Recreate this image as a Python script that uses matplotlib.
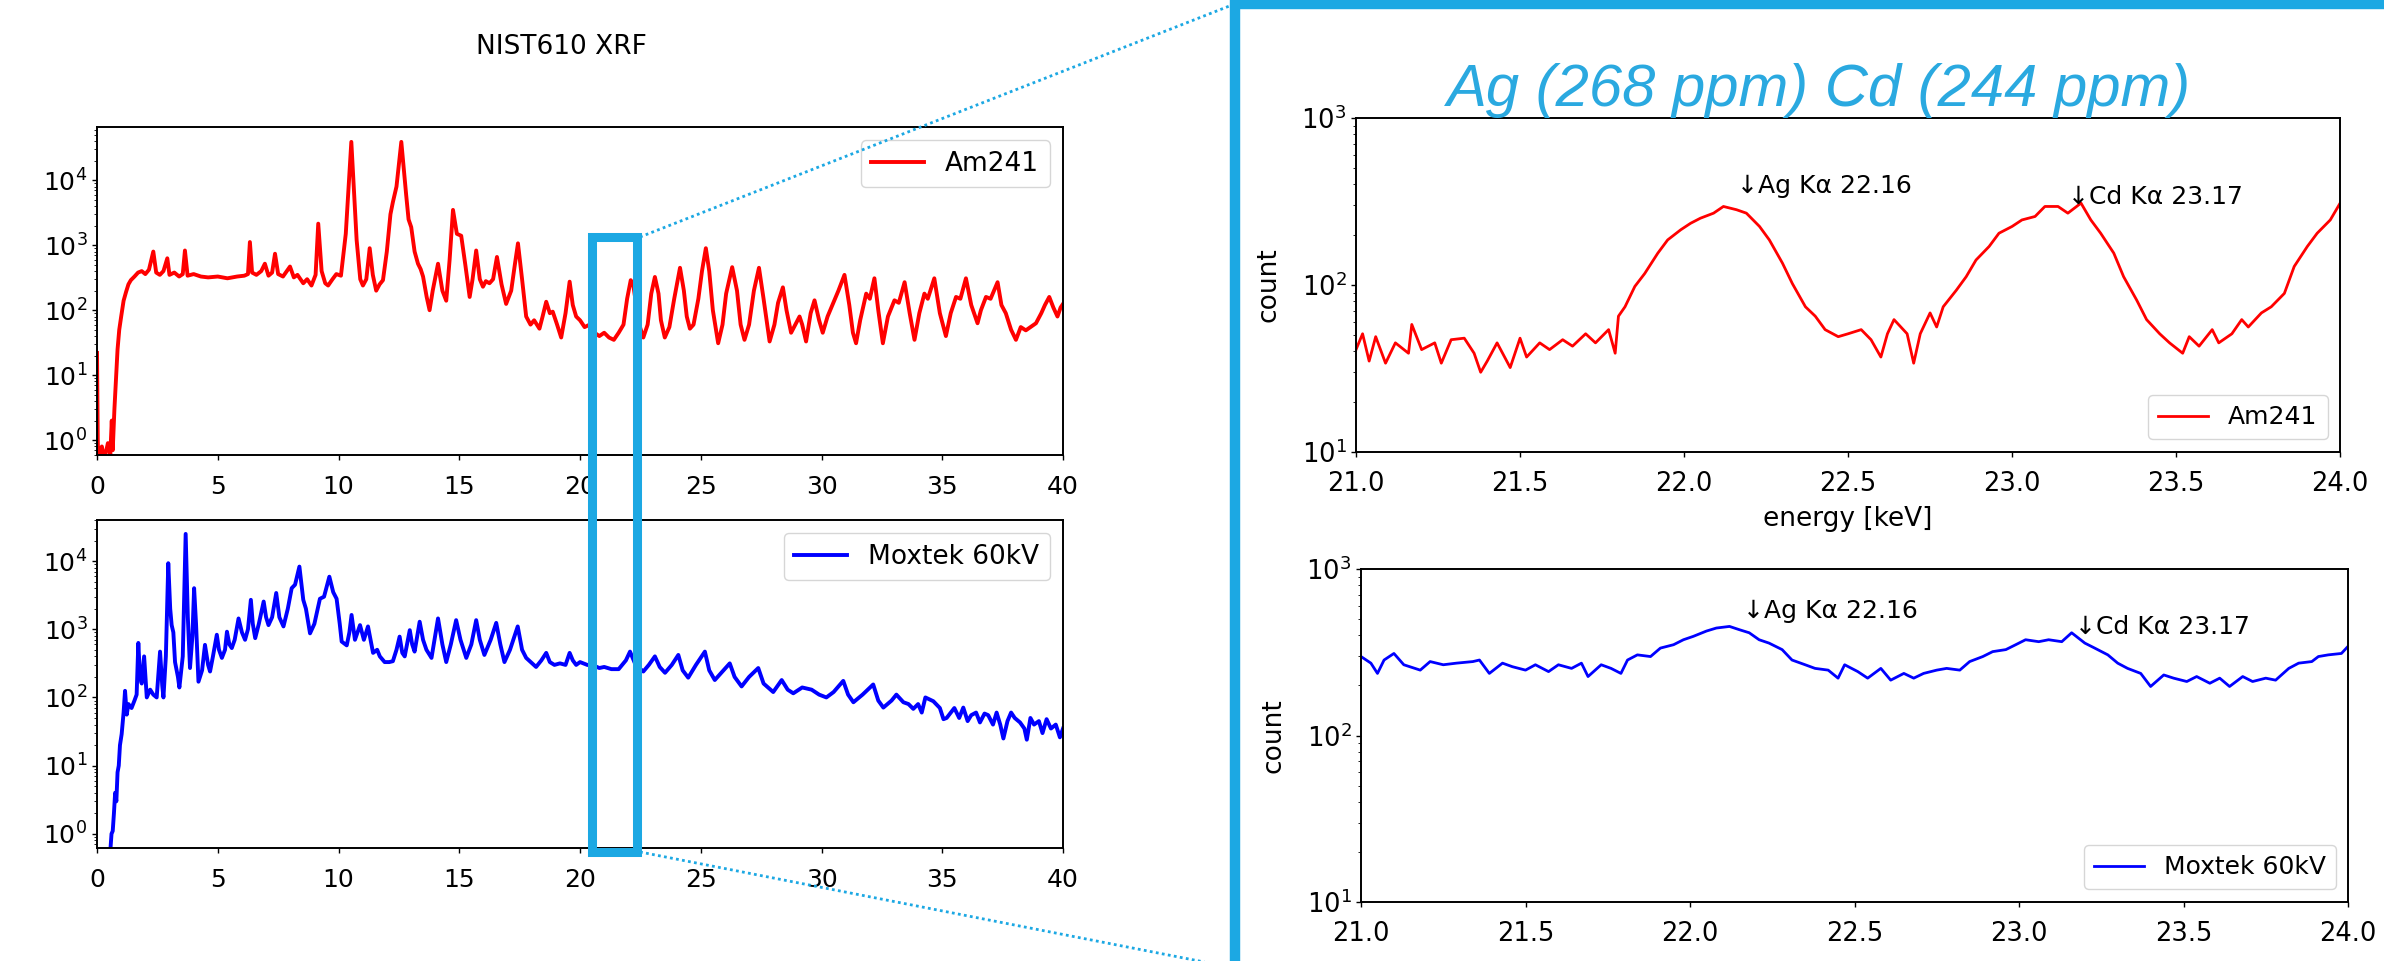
"""NIST610 XRF spectra: full range (left) and Ag/Cd zoom (right)."""
import numpy as np
import matplotlib
matplotlib.use("Agg")
import matplotlib.pyplot as plt
from matplotlib.patches import Rectangle
from matplotlib.lines import Line2D

W, H = 2384, 961
CYAN = "#1CA8E3"

# ---- full range spectra (energy keV, counts) ----
am_energy = [
    0.00, 0.03, 0.05, 0.20, 0.30, 0.45, 0.55, 0.61, 0.65, 0.72, 0.78, 0.85, 0.92, 1.00,
    1.10, 1.20, 1.30, 1.40, 1.55, 1.70, 1.85, 2.00, 2.15, 2.33, 2.45, 2.60, 2.75, 2.91,
    3.00, 3.20, 3.40, 3.55, 3.64, 3.75, 4.00, 4.30, 4.60, 5.00, 5.40, 5.80, 6.10, 6.25,
    6.33, 6.42, 6.60, 6.80, 6.95, 7.10, 7.25, 7.37, 7.50, 7.70, 7.99, 8.15, 8.30, 8.54,
    8.70, 8.88, 9.05, 9.16, 9.30, 9.45, 9.57, 9.75, 9.91, 10.10, 10.30, 10.53, 10.75,
    10.90, 11.01, 11.15, 11.29, 11.42, 11.56, 11.70, 11.84, 12.00, 12.15, 12.25, 12.40,
    12.60, 12.80, 12.90, 13.01, 13.15, 13.29, 13.40, 13.50, 13.65, 13.77, 13.90, 14.12,
    14.30, 14.46, 14.60, 14.74, 14.90, 15.08, 15.25, 15.43, 15.55, 15.70, 15.85, 15.98,
    16.10, 16.25, 16.40, 16.56, 16.75, 16.94, 17.15, 17.30, 17.43, 17.60, 17.77, 17.95,
    18.10, 18.32, 18.45, 18.60, 18.75, 18.87, 19.05, 19.22, 19.40, 19.57, 19.70, 19.84,
    20.00, 20.19, 20.40, 20.60, 20.80, 21.00, 21.20, 21.40, 21.60, 21.80, 21.95, 22.10,
    22.20, 22.30, 22.45, 22.62, 22.80, 22.95, 23.10, 23.25, 23.35, 23.51, 23.70, 23.90,
    24.14, 24.30, 24.42, 24.55, 24.70, 24.90, 25.05, 25.21, 25.35, 25.50, 25.72, 25.90,
    26.05, 26.30, 26.50, 26.65, 26.81, 27.00, 27.20, 27.41, 27.60, 27.85, 28.05, 28.20,
    28.40, 28.55, 28.74, 29.09, 29.20, 29.36, 29.55, 29.71, 29.90, 30.05, 30.25, 30.47,
    30.70, 30.95, 31.15, 31.30, 31.43, 31.60, 31.85, 32.00, 32.19, 32.35, 32.54, 32.75,
    33.02, 33.20, 33.44, 33.65, 33.85, 34.05, 34.26, 34.40, 34.67, 34.90, 35.15, 35.35,
    35.57, 35.75, 35.98, 36.20, 36.46, 36.60, 36.81, 37.00, 37.29, 37.45, 37.63, 37.85,
    38.05, 38.25, 38.46, 38.65, 38.88, 39.10, 39.25, 39.43, 39.60, 39.77, 39.90, 40.00,
]
am_counts = [
    22, 1.0, 0.5, 0.8, 0.5, 0.9, 0.6, 2.0, 0.7, 3, 8, 25, 50, 80,
    140, 190, 250, 290, 330, 380, 400, 360, 420, 800, 380, 350, 400, 630,
    350, 380, 330, 360, 830, 340, 360, 330, 320, 330, 310, 330, 340, 360,
    1120, 380, 350, 400, 520, 340, 380, 740, 360, 330, 470, 320, 350, 260,
    300, 240, 350, 2150, 400, 260, 240, 300, 360, 340, 1500, 39000, 1200,
    300, 240, 300, 900, 350, 200, 250, 290, 800, 3000, 4600, 8000,
    39000, 6000, 2500, 1900, 800, 520, 430, 330, 160, 100, 200, 520,
    200, 140, 600, 3500, 1500, 1400, 500, 160, 300, 830, 300, 230,
    280, 260, 300, 660, 250, 125, 200, 500, 1070, 300, 80, 60,
    70, 52, 80, 135, 90, 95, 60, 38, 90, 275, 120, 80,
    70, 55, 60, 45, 40, 45, 38, 35, 45, 60, 150, 290,
    250, 140, 60, 38, 60, 180, 325, 180, 70, 38, 55, 150,
    450, 200, 80, 52, 60, 150, 400, 900, 400, 100, 31, 60,
    180, 460, 200, 60, 35, 60, 200, 450, 150, 33, 60, 130,
    225, 100, 45, 80, 60, 33, 90, 142, 70, 45, 80, 125,
    200, 350, 120, 45, 31, 70, 180, 150, 310, 100, 31, 80,
    142, 130, 270, 90, 35, 90, 180, 150, 310, 90, 40, 90,
    160, 150, 310, 120, 63, 100, 160, 150, 270, 120, 90, 50,
    35, 55, 49, 55, 63, 90, 120, 160, 110, 80, 110, 125,
]

mox_energy = [
    0.54, 0.60, 0.65, 0.70, 0.75, 0.80, 0.85, 0.90, 0.95, 1.02, 1.10, 1.16, 1.23, 1.30,
    1.43, 1.55, 1.64, 1.71, 1.78, 1.85, 1.95, 2.06, 2.20, 2.33, 2.47, 2.61, 2.70, 2.75,
    2.85, 2.95, 3.03, 3.09, 3.16, 3.23, 3.35, 3.41, 3.55, 3.67, 3.76, 3.85, 3.95, 4.02,
    4.10, 4.20, 4.35, 4.47, 4.60, 4.68, 4.80, 4.96, 5.05, 5.17, 5.30, 5.38, 5.48, 5.58,
    5.70, 5.86, 6.00, 6.13, 6.25, 6.37, 6.45, 6.55, 6.70, 6.90, 7.00, 7.10, 7.25, 7.42,
    7.55, 7.72, 7.90, 8.06, 8.20, 8.38, 8.54, 8.65, 8.82, 9.00, 9.23, 9.40, 9.62, 9.78,
    9.92, 10.05, 10.13, 10.34, 10.45, 10.54, 10.68, 10.89, 11.05, 11.22, 11.43, 11.60,
    11.71, 11.91, 12.10, 12.25, 12.40, 12.53, 12.64, 12.74, 12.95, 13.05, 13.15, 13.36,
    13.50, 13.64, 13.85, 14.12, 14.30, 14.46, 14.65, 14.87, 15.05, 15.29, 15.50, 15.70,
    15.85, 16.04, 16.30, 16.53, 16.70, 16.87, 17.10, 17.42, 17.60, 17.77, 18.00, 18.18,
    18.40, 18.60, 18.75, 18.94, 19.17, 19.40, 19.57, 19.70, 19.84, 20.00, 20.30, 20.60,
    20.80, 21.00, 21.30, 21.60, 21.90, 22.07, 22.30, 22.62, 22.85, 23.10, 23.30, 23.52,
    23.80, 24.07, 24.25, 24.48, 24.80, 25.17, 25.35, 25.58, 25.90, 26.20, 26.40, 26.69,
    27.00, 27.38, 27.60, 28.00, 28.35, 28.60, 28.83, 29.20, 29.59, 29.90, 30.20, 30.50,
    30.90, 31.10, 31.32, 31.70, 32.14, 32.35, 32.56, 32.90, 33.10, 33.39, 33.60, 33.80,
    34.00, 34.15, 34.30, 34.63, 34.90, 35.05, 35.18, 35.50, 35.70, 35.87, 36.05, 36.20,
    36.40, 36.56, 36.75, 36.90, 37.10, 37.25, 37.40, 37.53, 37.70, 37.85, 38.00, 38.22,
    38.40, 38.50, 38.65, 38.80, 39.00, 39.15, 39.32, 39.50, 39.70, 39.87, 40.00,
]
mox_counts = [
    0.5, 1.0, 1.1, 2, 4, 3, 8, 10, 20, 29, 60, 125, 56, 80,
    70, 90, 110, 630, 200, 160, 400, 100, 130, 110, 100, 470, 150, 100,
    400, 9300, 2000, 1150, 900, 330, 200, 140, 400, 25000, 1500, 270, 800, 4000,
    1200, 170, 250, 590, 300, 240, 400, 830, 500, 380, 500, 920, 600, 530,
    700, 1440, 900, 700, 1000, 2700, 1200, 740, 1200, 2550, 1500, 1150, 1500, 3400,
    1500, 1100, 2000, 4000, 4500, 8300, 2700, 2000, 870, 1200, 2800, 3000, 5900, 3500,
    2800, 1200, 660, 580, 900, 1620, 700, 1150, 700, 1100, 450, 500,
    400, 330, 330, 340, 500, 780, 450, 400, 970, 600, 470, 1290,
    700, 500, 380, 1440, 600, 330, 600, 1360, 700, 380, 600, 1360,
    700, 420, 700, 1240, 600, 330, 500, 1100, 500, 380, 320, 280,
    350, 450, 330, 300, 316, 300, 450, 350, 300, 330, 300, 290,
    270, 280, 260, 260, 350, 470, 300, 240, 300, 400, 280, 230,
    300, 420, 250, 195, 300, 470, 250, 180, 240, 316, 200, 145,
    200, 270, 160, 120, 180, 130, 115, 140, 130, 110, 100, 120,
    175, 110, 85, 110, 155, 90, 71, 90, 110, 85, 80, 68,
    80, 60, 100, 88, 70, 48, 50, 70, 50, 71, 45, 55,
    60, 43, 58, 55, 40, 60, 40, 25, 45, 60, 50, 43,
    35, 24, 50, 40, 45, 30, 48, 35, 40, 26, 35,
]

# ---- Ag / Cd window 21-24 keV ----
am_zoom_energy = [
    21.00, 21.02, 21.04, 21.06, 21.09, 21.12, 21.16, 21.17, 21.20, 21.24, 21.26, 21.29,
    21.33, 21.36, 21.38, 21.40, 21.43, 21.47, 21.50, 21.52, 21.56, 21.59, 21.63, 21.66,
    21.70, 21.73, 21.77, 21.79, 21.80, 21.82, 21.85, 21.88, 21.92, 21.95, 21.99, 22.02,
    22.05, 22.09, 22.12, 22.16, 22.19, 22.23, 22.26, 22.30, 22.33, 22.37, 22.40, 22.43,
    22.47, 22.50, 22.54, 22.57, 22.60, 22.62, 22.64, 22.68, 22.70, 22.72, 22.75, 22.77,
    22.79, 22.83, 22.86, 22.89, 22.93, 22.96, 23.00, 23.03, 23.07, 23.10, 23.14, 23.17,
    23.21, 23.24, 23.27, 23.31, 23.34, 23.38, 23.41, 23.45, 23.48, 23.52, 23.54, 23.57,
    23.61, 23.63, 23.67, 23.70, 23.72, 23.76, 23.79, 23.83, 23.86, 23.90, 23.93, 23.97,
    24.00,
]
am_zoom_counts = [
    41, 51, 35, 49, 34, 45, 39, 58, 41, 45, 34, 47,
    48, 39, 30, 35, 45, 32, 48, 37, 45, 41, 47, 43,
    51, 45, 54, 39, 65, 74, 98, 117, 155, 186, 214, 234,
    251, 269, 295, 282, 269, 224, 186, 135, 102, 74, 65, 54,
    49, 51, 54, 47, 37, 51, 62, 51, 34, 51, 68, 56,
    74, 93, 112, 141, 170, 204, 224, 245, 257, 295, 295, 269,
    309, 245, 204, 155, 112, 81, 62, 51, 45, 39, 49, 43,
    54, 45, 51, 62, 56, 68, 74, 89, 129, 170, 204, 245,
    309,
]

mox_zoom_energy = [
    21.00, 21.03, 21.05, 21.07, 21.10, 21.13, 21.18, 21.21, 21.25, 21.29, 21.34, 21.36,
    21.39, 21.43, 21.46, 21.50, 21.53, 21.57, 21.60, 21.64, 21.67, 21.69, 21.73, 21.76,
    21.79, 21.81, 21.84, 21.88, 21.91, 21.95, 21.98, 22.01, 22.05, 22.08, 22.12, 22.15,
    22.18, 22.21, 22.24, 22.28, 22.31, 22.35, 22.38, 22.42, 22.45, 22.47, 22.51, 22.54,
    22.58, 22.61, 22.65, 22.68, 22.71, 22.75, 22.78, 22.82, 22.85, 22.89, 22.92, 22.96,
    22.99, 23.02, 23.06, 23.09, 23.13, 23.16, 23.20, 23.23, 23.27, 23.30, 23.33, 23.37,
    23.40, 23.44, 23.47, 23.51, 23.54, 23.58, 23.61, 23.64, 23.68, 23.71, 23.75, 23.78,
    23.82, 23.85, 23.89, 23.91, 23.94, 23.98, 24.00,
]
mox_zoom_counts = [
    298, 272, 236, 284, 311, 266, 247, 278, 266, 272, 278, 284,
    236, 272, 259, 247, 266, 242, 266, 253, 272, 226, 266, 253,
    236, 284, 305, 298, 335, 351, 376, 394, 424, 442, 452, 432,
    414, 376, 359, 328, 284, 266, 253, 247, 221, 266, 242, 221,
    253, 215, 236, 221, 236, 247, 253, 247, 278, 298, 319, 328,
    351, 376, 366, 376, 366, 414, 359, 335, 305, 272, 253, 236,
    197, 231, 221, 211, 226, 206, 221, 197, 226, 211, 221, 215,
    253, 272, 278, 298, 305, 311, 343,
]

line_labels = ["Ag Kα 22.16", "Cd Kα 23.17"]
line_energy = [22.16, 23.17]
am_label_y = [355, 305]
mox_label_y = [505, 410]


def fig_xy(px, py):
    """pixel position in the slide -> figure fraction"""
    return px / W, 1 - py / H


def style_axis(ax, size, xpad):
    ax.tick_params(labelsize=size, width=1.0)
    ax.tick_params(axis="x", pad=xpad)
    for sp in ax.spines.values():
        sp.set_linewidth(1.4)


fig = plt.figure(figsize=(W / 100, H / 100), dpi=100)

# left: full range
ax_am = fig.add_axes([0.0407, 0.5265, 0.4052, 0.3413])
ax_mox = fig.add_axes([0.0407, 0.1176, 0.4052, 0.3413])
ax_am.plot(am_energy, am_counts, color="red", lw=2.8, label="Am241")
ax_mox.plot(mox_energy, mox_counts, color="blue", lw=2.8, label="Moxtek 60kV")
ax_am.set_ylim(0.59, 66000)
ax_mox.set_ylim(0.62, 40000)
for ax in (ax_am, ax_mox):
    ax.set_yscale("log")
    ax.set_xlim(0, 40)
    ax.set_xticks(range(0, 41, 5))
    style_axis(ax, 18, 11)
    ax.legend(loc="upper right", fontsize=19)
fig.text(0.2357, 0.951, "NIST610 XRF", ha="center", va="center", fontsize=19)

# right: Ag / Cd window
ax_az = fig.add_axes([0.5688, 0.5297, 0.4128, 0.3476])
ax_mz = fig.add_axes([0.5709, 0.0614, 0.4140, 0.3465])
ax_az.plot(am_zoom_energy, am_zoom_counts, color="red", lw=2.0, label="Am241")
ax_mz.plot(mox_zoom_energy, mox_zoom_counts, color="blue", lw=2.0, label="Moxtek 60kV")
for ax, ys in ((ax_az, am_label_y), (ax_mz, mox_label_y)):
    ax.set_yscale("log")
    ax.set_xlim(21, 24)
    ax.set_ylim(10, 1000)
    ax.set_ylabel("count", fontsize=19, labelpad=14)
    style_axis(ax, 18.5, 10)
    ax.legend(loc="lower right", fontsize=18)
    for e, txt, y in zip(line_energy, line_labels, ys):
        ax.text(e, y, "↓" + txt, fontsize=18, ha="left", va="baseline")
ax_az.set_xlabel("energy [keV]", fontsize=19, labelpad=7)

fig.text(0.763, 1 - 90 / H, "Ag (268 ppm) Cd (244 ppm)", ha="center", va="center",
         fontsize=43, style="italic", family="Liberation Sans", color="#2AA9E0")

# zoom frame, marker box and connectors
x0, y0 = fig_xy(1235, 966)
x1, y1 = fig_xy(2400, 4)
fig.patches.append(Rectangle((x0, y0), x1 - x0, y1 - y0, transform=fig.transFigure,
                             fill=False, ec=CYAN, lw=7.5, clip_on=False))
bx0, by0 = fig_xy(592, 852)
bx1, by1 = fig_xy(637, 237)
fig.patches.append(Rectangle((bx0, by0), bx1 - bx0, by1 - by0, transform=fig.transFigure,
                             fill=False, ec=CYAN, lw=6.5, clip_on=False))
for (ax_, ay_), (cx_, cy_) in (((640, 237), (1232, 5)), ((640, 852), (1235, 968))):
    p0 = fig_xy(ax_, ay_)
    p1 = fig_xy(cx_, cy_)
    fig.lines.append(Line2D([p0[0], p1[0]], [p0[1], p1[1]], transform=fig.transFigure,
                            color=CYAN, lw=2.0, ls=(0, (1, 1.2))))

fig.savefig("out.png", dpi=100)
